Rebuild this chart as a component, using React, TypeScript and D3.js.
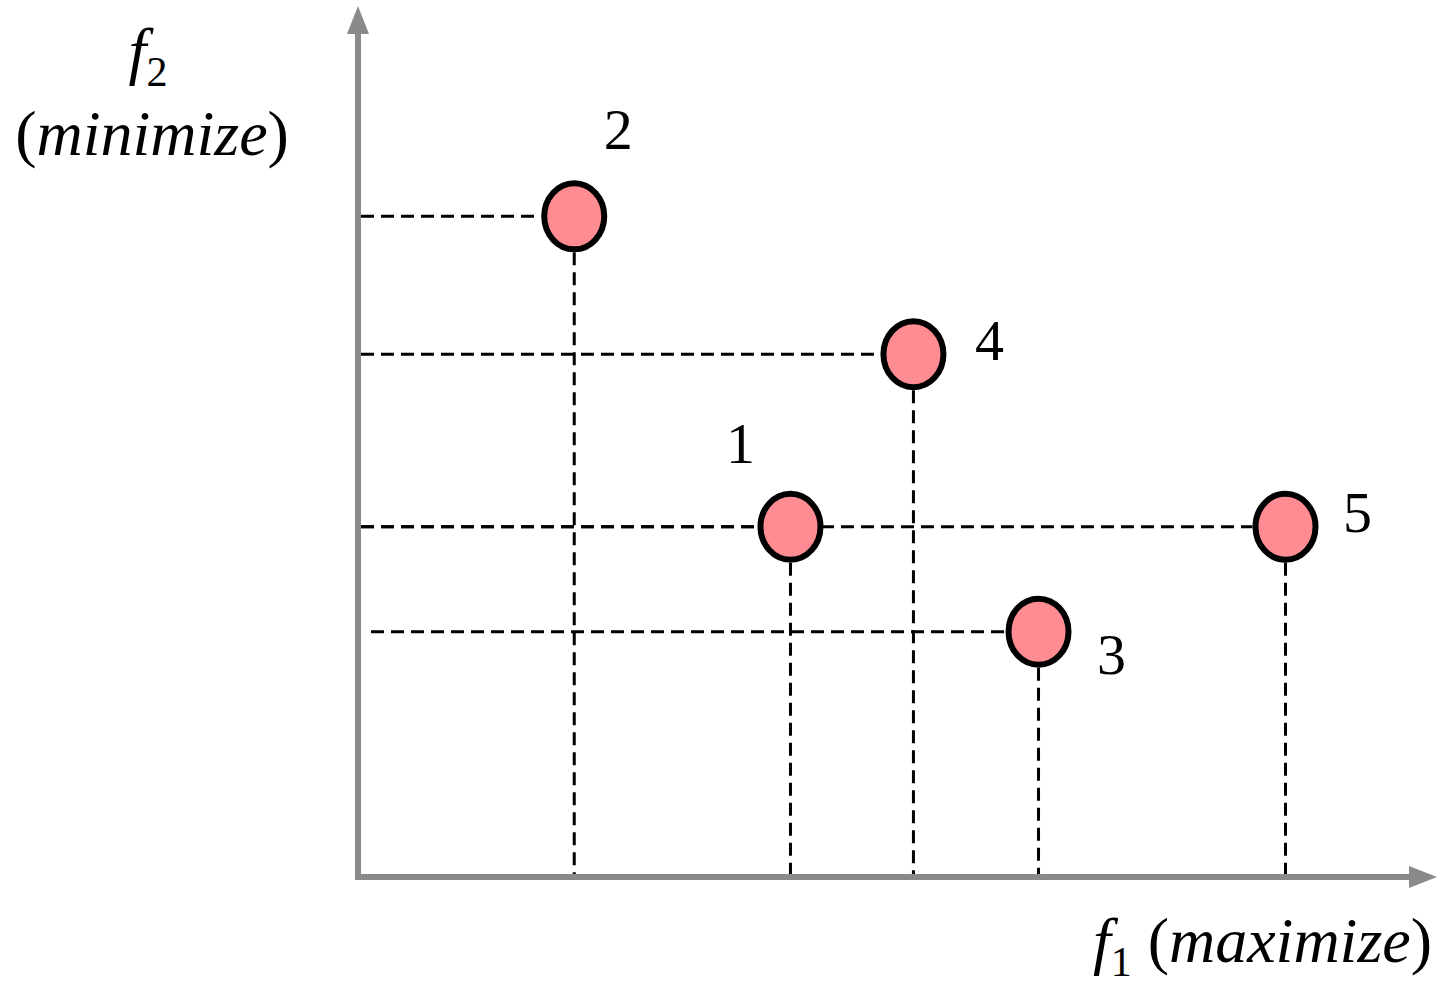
import * as d3 from 'd3'
import { useRef, useEffect } from 'react'

const W = 1455, H = 1002
const ORIGIN = { x: 358, y: 877 }

// solutions: id, f1 (maximize), f2 (minimize) in arbitrary units
const ids = ['1', '2', '3', '4', '5']
const f1 = [4.08, 2.04, 6.42, 5.24, 8.75]
const f2 = [4.04, 7.62, 2.83, 6.03, 4.04]

export default function App() {
  const svgRef = useRef<SVGSVGElement>(null)

  useEffect(() => {
    const svg = d3.select(svgRef.current)
    svg.selectAll('*').remove()

    const x = d3.scaleLinear().domain([0, 10]).range([ORIGIN.x, 1418])
    const y = d3.scaleLinear().domain([0, 10]).range([ORIGIN.y, 10])

    const rx = 33, ry = 36
    // label offsets relative to the point centre
    const off: Record<string, [number, number]> = {
      '1': [-50, -64], '2': [44, -67], '3': [73, 42], '4': [76, 6], '5': [72, 5],
    }
    const hStart: Record<string, number> = { '3': 10 }

    const pts = ids.map((id, i) => ({ id, x: x(f1[i]), y: y(f2[i]) }))

    // dashed guides
    pts.forEach((p) => {
      svg.append('line')
        .attr('x1', ORIGIN.x + 3 + (hStart[p.id] || 0)).attr('x2', p.x - rx)
        .attr('y1', p.y).attr('y2', p.y)
        .attr('stroke', '#000').attr('stroke-width', 3).attr('stroke-dasharray', '13,7')
      svg.append('line')
        .attr('x1', p.x).attr('x2', p.x)
        .attr('y1', p.y + ry).attr('y2', ORIGIN.y)
        .attr('stroke', '#000').attr('stroke-width', 3).attr('stroke-dasharray', '13,7')
    })

    // axes
    const grey = '#8a8a8a'
    svg.append('line').attr('x1', ORIGIN.x).attr('x2', ORIGIN.x).attr('y1', ORIGIN.y + 3).attr('y2', 30)
      .attr('stroke', grey).attr('stroke-width', 6)
    svg.append('path').attr('d', `M${ORIGIN.x},6 L${ORIGIN.x - 11},34 L${ORIGIN.x + 11},34 Z`).attr('fill', grey)
    svg.append('line').attr('x1', ORIGIN.x - 3).attr('x2', 1415).attr('y1', ORIGIN.y).attr('y2', ORIGIN.y)
      .attr('stroke', grey).attr('stroke-width', 6)
    svg.append('path').attr('d', `M1437,${ORIGIN.y} L1409,${ORIGIN.y - 11} L1409,${ORIGIN.y + 11} Z`).attr('fill', grey)

    // points
    pts.forEach((p) => {
      svg.append('ellipse').attr('cx', p.x).attr('cy', p.y).attr('rx', rx - 3).attr('ry', ry - 3)
        .attr('fill', '#ff8c92').attr('stroke', '#000').attr('stroke-width', 6)
      const [dx, dy] = off[p.id]
      svg.append('text').attr('x', p.x + dx).attr('y', p.y + dy).attr('text-anchor', 'middle')
        .attr('font-family', 'Liberation Serif').attr('font-size', 58).attr('fill', '#000').text(p.id)
    })

    // axis titles
    const t2 = svg.append('text').attr('x', 148).attr('y', 72).attr('text-anchor', 'middle')
      .attr('font-family', 'Liberation Serif').attr('font-size', 64).attr('fill', '#000')
    t2.append('tspan').attr('font-style', 'italic').text('f')
    t2.append('tspan').attr('font-size', 42).attr('dy', 14).text('2')
    svg.append('text').attr('x', 152).attr('y', 155).attr('text-anchor', 'middle')
      .attr('font-family', 'Liberation Serif').attr('font-size', 64).attr('fill', '#000')
      .call((t) => {
        t.append('tspan').text('(')
        t.append('tspan').attr('font-style', 'italic').text('minimize')
        t.append('tspan').text(')')
      })

    const t1 = svg.append('text').attr('x', 1432).attr('y', 962).attr('text-anchor', 'end')
      .attr('font-family', 'Liberation Serif').attr('font-size', 64).attr('fill', '#000')
    t1.append('tspan').attr('font-style', 'italic').text('f')
    t1.append('tspan').attr('font-size', 42).attr('dy', 14).text('1')
    t1.append('tspan').attr('dy', -14).text(' (')
    t1.append('tspan').attr('font-style', 'italic').text('maximize')
    t1.append('tspan').text(')')
  }, [])

  return (
    <svg ref={svgRef} width={W} height={H} viewBox={`0 0 ${W} ${H}`}
      style={{ position: 'absolute', left: 0, top: 0, background: '#fff' }} />
  )
}
